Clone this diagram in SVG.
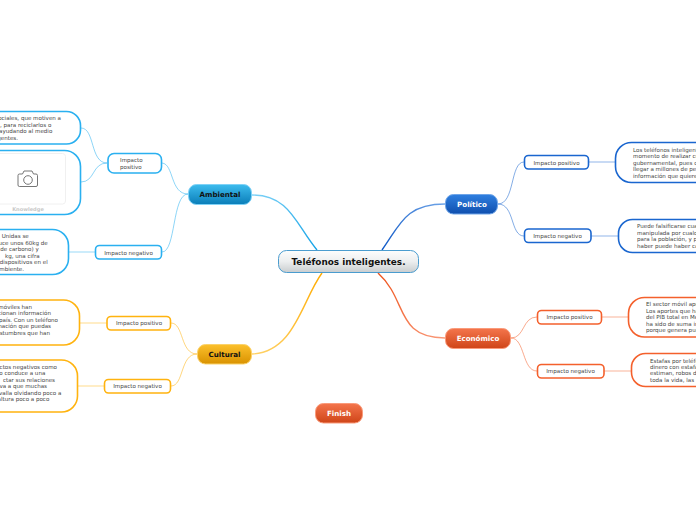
<svg xmlns="http://www.w3.org/2000/svg" width="696" height="520" viewBox="0 0 696 520">
<style>
text{font-family:"DejaVu Sans",Verdana,sans-serif}
.t{font-size:5.55px;fill:#444}
.e{text-anchor:end}
.mid{text-anchor:middle}
.m{font-size:7.1px;font-weight:700;text-anchor:middle}
.w{fill:#fff}
.k{fill:#111}
.n{fill:#fff;stroke-width:1.6}
.c{fill:none}
.main{stroke-width:1.4}
.sub{stroke-width:.9;opacity:.6}
.leaf{stroke-width:1.6;opacity:.3}
.a{stroke:#2ab0f0}.o{stroke:#ffb30f}.b{stroke:#1a66cf}.r{stroke:#f4602c}
</style>
<defs>
<linearGradient id="gc" x1="0" y1="0" x2="0" y2="1"><stop offset="0" stop-color="#fdfdfd"/><stop offset=".5" stop-color="#eceeef"/><stop offset="1" stop-color="#c9cdcf"/></linearGradient>
<linearGradient id="ga" x1="0" y1="0" x2="0" y2="1"><stop offset="0" stop-color="#3dbcee"/><stop offset="1" stop-color="#0a7db8"/></linearGradient>
<linearGradient id="go" x1="0" y1="0" x2="0" y2="1"><stop offset="0" stop-color="#fcc02c"/><stop offset="1" stop-color="#d99200"/></linearGradient>
<linearGradient id="gb" x1="0" y1="0" x2="0" y2="1"><stop offset="0" stop-color="#2f7fe0"/><stop offset="1" stop-color="#0f4fae"/></linearGradient>
<linearGradient id="gr" x1="0" y1="0" x2="0" y2="1"><stop offset="0" stop-color="#f4754c"/><stop offset="1" stop-color="#cf4518"/></linearGradient>
<linearGradient id="la" gradientUnits="userSpaceOnUse" x1="252" y1="195" x2="317" y2="250"><stop offset="0" stop-color="#7fd2f7"/><stop offset="1" stop-color="#12a2e6"/></linearGradient>
<linearGradient id="lb" gradientUnits="userSpaceOnUse" x1="445" y1="204" x2="382" y2="250"><stop offset="0" stop-color="#6fa5e8"/><stop offset="1" stop-color="#0f58c6"/></linearGradient>
<linearGradient id="lo" gradientUnits="userSpaceOnUse" x1="252" y1="354" x2="322" y2="273"><stop offset="0" stop-color="#ffd268"/><stop offset="1" stop-color="#ffab00"/></linearGradient>
<linearGradient id="lr" gradientUnits="userSpaceOnUse" x1="445" y1="338" x2="378" y2="273"><stop offset="0" stop-color="#fa9a7a"/><stop offset="1" stop-color="#ee5018"/></linearGradient>
</defs>
<g id="connectors">
<path class="c main" stroke="url(#la)" d="M252 195C290 195 296 225 317 250"/>
<path class="c main" stroke="url(#lb)" d="M445 204C405 204 400 225 382 250"/>
<path class="c main" stroke="url(#lo)" d="M252 354C295 352 302 300 322 273"/>
<path class="c main" stroke="url(#lr)" d="M445 338C395 338 408 300 378 273"/>
<path class="c sub a" d="M188 194C170 194 174 164 162 163"/>
<path class="c sub a" d="M188 194C172 194 176 252 162 252"/>
<path class="c sub a" d="M107 163C90 163 95 128 81 128"/>
<path class="c sub a" d="M107 163C92 163 95 182 81 182"/>
<path class="c sub o" d="M197 354C180 354 184 323 171 323"/>
<path class="c sub o" d="M197 354C180 354 184 386 171 386"/>
<path class="c sub b" d="M498 204C515 204 510 162 524 162"/>
<path class="c sub b" d="M498 204C515 204 510 236 524 236"/>
<path class="c sub r" d="M511 338C525 338 522 317 537 317"/>
<path class="c sub r" d="M511 338C525 338 522 371 537 371"/>
<path class="c leaf a" d="M95 252H69"/>
<path class="c leaf o" d="M107 323H79"/>
<path class="c leaf o" d="M104 386H78"/>
<path class="c leaf b" d="M589 162H615"/>
<path class="c leaf b" d="M591 236H618"/>
<path class="c leaf r" d="M602 317H628"/>
<path class="c leaf r" d="M604 371H631"/>
</g>
<g id="center"><rect x="278.500" y="250.500" width="140" height="22" rx="8" fill="url(#gc)" stroke="#4a9ccf" stroke-width="1"/><text x="348.500" y="264.800" text-anchor="middle" font-size="8.900" font-weight="700" fill="#111">Teléfonos inteligentes.</text></g>
<g id="ambiental"><rect x="188.500" y="184.500" width="63" height="20" rx="8" fill="url(#ga)" stroke="#7fd2f7" stroke-width="1"/><text class="m k" x="220" y="197">Ambiental</text></g>
<g id="cultural"><rect x="197.500" y="344.500" width="54" height="19.500" rx="8" fill="url(#go)" stroke="#fbd26a" stroke-width="1"/><text class="m k" x="224.500" y="357">Cultural</text></g>
<g id="politico"><rect x="445.500" y="194.500" width="52" height="19.500" rx="8" fill="url(#gb)" stroke="#6fa5e8" stroke-width="1"/><text class="m w" x="472" y="207">Político</text></g>
<g id="economico"><rect x="445.500" y="328.500" width="65" height="20" rx="8" fill="url(#gr)" stroke="#fa9a7a" stroke-width="1"/><text class="m w" x="478" y="341.200">Económico</text></g>
<g id="finish"><rect x="315.500" y="403.500" width="47" height="19.500" rx="8" fill="url(#gr)" stroke="#fa9a7a" stroke-width="1"/><text class="m w" x="339" y="415.800">Finish</text></g>
<g id="amb-pos"><rect class="n a" x="108" y="153.500" width="53.500" height="19.500" rx="6"/><text class="t" x="120" y="162">Impacto</text><text class="t" x="120" y="169">positivo</text></g>
<g id="amb-neg"><rect class="n a" x="95.500" y="245.500" width="66" height="13.500" rx="4"/><text class="t mid" x="128.500" y="254.700">Impacto negativo</text></g>
<g id="cul-pos"><rect class="n o" x="107" y="316.500" width="63.500" height="13.500" rx="4"/><text class="t mid" x="139" y="325.200">Impacto positivo</text></g>
<g id="cul-neg"><rect class="n o" x="104.500" y="379.500" width="66" height="13.500" rx="4"/><text class="t mid" x="137.500" y="388.200">Impacto negativo</text></g>
<g id="pol-pos"><rect class="n b" x="524.500" y="155.500" width="64" height="13.500" rx="4"/><text class="t mid" x="556.500" y="164.800">Impacto positivo</text></g>
<g id="pol-neg"><rect class="n b" x="524.500" y="229" width="66.500" height="13.500" rx="4"/><text class="t mid" x="557.500" y="237.800">Impacto negativo</text></g>
<g id="eco-pos"><rect class="n r" x="537.500" y="310.500" width="64" height="13.500" rx="4"/><text class="t mid" x="569.500" y="319">Impacto positivo</text></g>
<g id="eco-neg"><rect class="n r" x="537.500" y="364.500" width="66.500" height="13.500" rx="4"/><text class="t mid" x="570.500" y="373">Impacto negativo</text></g>
<g id="leaf-a1"><rect class="n a" x="-40" y="111.500" width="120.500" height="32.500" rx="14"/><text class="t e"><tspan x="61" y="120">ociales, que motiven a</tspan><tspan x="51.300" y="127">, para reciclarlos o</tspan><tspan x="52.300" y="133">ayudando al medio</tspan><tspan x="18" y="140">gentes.</tspan></text></g>
<g id="leaf-a2"><rect class="n a" x="-40" y="150.500" width="120.500" height="64" rx="16"/><rect x="-20" y="153.500" width="85.500" height="50.500" rx="3" fill="#fff" stroke="#ececec" stroke-width=".8"/><path d="M19.500 174h3l1.500-3h8l1.500 3h2.500a1.500 1.500 0 0 1 1.500 1.500v9.500a1.500 1.500 0 0 1-1.500 1.500h-16.500a1.500 1.500 0 0 1-1.500-1.500v-9.500a1.500 1.500 0 0 1 1.500-1.500z" fill="none" stroke="#666" stroke-width=".9"/><circle cx="28" cy="180" r="4.300" fill="none" stroke="#666" stroke-width=".9"/><text x="28" y="211" text-anchor="middle" font-size="5.100" font-weight="700" fill="#c8c8c8">Knowledge</text></g>
<g id="leaf-a3"><rect class="n a" x="-40" y="229.500" width="108.500" height="45" rx="16"/><text class="t e"><tspan x="28.700" y="238">Unidas se</tspan><tspan x="47.700" y="244.700">uce unos 60kg de</tspan><tspan x="38.700" y="251">de carbono) y</tspan><tspan x="39.700" y="258">kg, una cifra</tspan><tspan x="47.700" y="264.300">dispositivos en el</tspan><tspan x="24" y="271">mbiente.</tspan></text></g>
<g id="leaf-o1"><rect class="n o" x="-40" y="300" width="119.500" height="45" rx="16"/><text class="t e"><tspan x="32" y="308.700">móviles han</tspan><tspan x="51" y="315.300">cionan información</tspan><tspan x="58" y="321.700">país. Con un teléfono</tspan><tspan x="51" y="328.300">mación que puedas</tspan><tspan x="50" y="334.700">stumbres que han</tspan></text></g>
<g id="leaf-o2"><rect class="n o" x="-40" y="360" width="117.500" height="52" rx="16"/><text class="t e"><tspan x="57" y="369">ctos negativos como</tspan><tspan x="45.300" y="375.300">o conduce a una</tspan><tspan x="55" y="381.700">ctar sus relaciones</tspan><tspan x="47" y="388">iva a que muchas</tspan><tspan x="61.300" y="394.700">valla olvidando poco a</tspan><tspan x="49.300" y="401">altura poco a poco</tspan></text></g>
<g id="leaf-b1"><rect class="n b" x="615.500" y="142.500" width="140" height="40" rx="16"/><text class="t"><tspan x="633" y="152">Los teléfonos inteligent</tspan><tspan x="633" y="158.300">momento de realizar cu</tspan><tspan x="633" y="165">gubernamental, pues c</tspan><tspan x="633" y="171">llegar a millones de per</tspan><tspan x="633" y="178">información que quiere</tspan></text></g>
<g id="leaf-b2"><rect class="n b" x="618.500" y="219.500" width="140" height="33" rx="14"/><text class="t"><tspan x="637" y="228">Puede falsificarse cua</tspan><tspan x="637" y="235">manipulada por cualqu</tspan><tspan x="637" y="241.300">para la población, y p</tspan><tspan x="637" y="248">haber puede haber ca</tspan></text></g>
<g id="leaf-r1"><rect class="n r" x="628.500" y="297.500" width="140" height="39.500" rx="16"/><text class="t"><tspan x="646" y="306">El sector móvil apo</tspan><tspan x="646" y="312.700">Los aportes que ha</tspan><tspan x="646" y="318.700">del PIB total en Mé</tspan><tspan x="646" y="326">ha sido de suma im</tspan><tspan x="646" y="332">porque genera pue</tspan></text></g>
<g id="leaf-r2"><rect class="n r" x="631.500" y="353.500" width="140" height="33" rx="14"/><text class="t"><tspan x="650" y="363">Estafas por teléfo</tspan><tspan x="650" y="369.300">dinero con estafa</tspan><tspan x="650" y="375.300">estiman, robos de</tspan><tspan x="650" y="382">toda la vida, las</tspan></text></g>
</svg>
